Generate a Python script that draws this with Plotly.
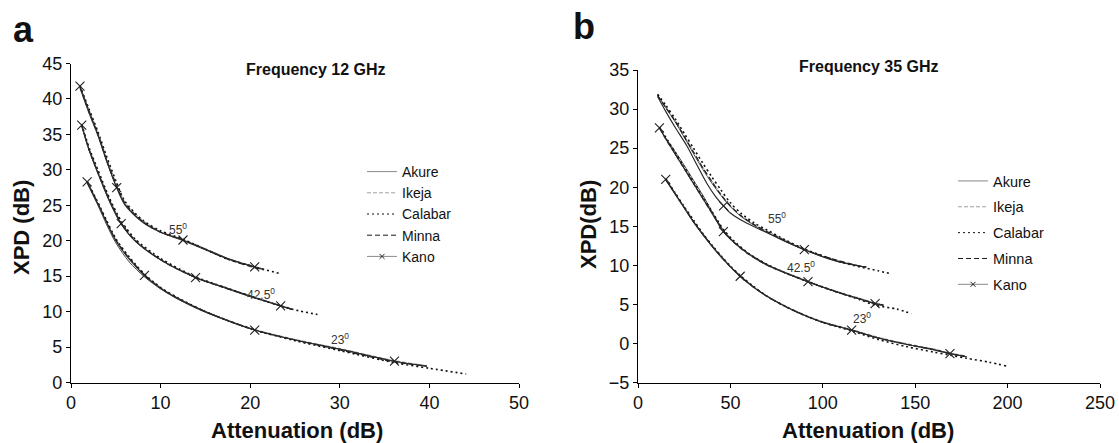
import plotly.graph_objects as go

# ---------------- Panel a : Frequency 12 GHz ----------------
A55_X = [1.0, 2.0, 3.0, 4.0, 5.0, 6.0, 8.0, 10.0, 12.5, 15.0, 17.5, 20.5, 21.5]
A55_AKURE = [41.5, 38.0, 34.8, 31.1, 27.8, 25.2, 22.7, 21.2, 20.0, 18.7, 17.4, 16.3, 16.0]
A55_IKEJA = [41.6, 38.5, 35.3, 31.6, 28.3, 25.5, 22.9, 21.3, 20.2, 18.9, 17.5, 16.4, 16.0]
A55_MINNA = [41.7, 38.2, 35.0, 31.3, 28.0, 25.3, 22.7, 21.2, 20.1, 18.8, 17.4, 16.2, 15.9]
A55_KANO = [41.8, 38.3, 35.0, 31.2, 27.8, 25.1, 22.6, 21.2, 20.1, 18.8, 17.5, 16.3, 15.9]
A55_CAL_X = [1.0, 2.0, 3.0, 4.0, 5.0, 6.0, 8.0, 10.0, 12.5, 15.0, 17.5, 20.5, 23.5]
A55_CALABAR = [41.9, 38.6, 35.4, 31.8, 28.5, 25.6, 22.9, 21.4, 20.2, 18.8, 17.4, 16.3, 15.3]
A55_KANO_MX = [1.0, 5.1, 12.5, 20.5]
A55_KANO_MY = [41.8, 27.5, 20.1, 16.3]

A42_X = [1.2, 2.0, 3.0, 4.3, 5.6, 7.2, 10.0, 13.9, 17.0, 20.0, 23.4, 24.7]
A42_AKURE = [36.1, 32.8, 29.5, 25.5, 22.3, 19.9, 17.3, 14.8, 13.4, 12.1, 10.8, 10.3]
A42_IKEJA = [36.2, 33.1, 29.9, 25.9, 22.6, 20.1, 17.4, 14.9, 13.5, 12.2, 10.9, 10.4]
A42_MINNA = [36.3, 32.9, 29.6, 25.7, 22.5, 20.0, 17.3, 14.8, 13.4, 12.2, 10.8, 10.3]
A42_KANO = [36.3, 32.9, 29.6, 25.6, 22.4, 19.9, 17.3, 14.8, 13.5, 12.2, 10.8, 10.3]
A42_CAL_X = [1.2, 2.0, 3.0, 4.3, 5.6, 7.2, 10.0, 13.9, 17.0, 20.0, 23.4, 25.5, 27.5]
A42_CALABAR = [36.4, 33.2, 30.0, 26.0, 22.8, 20.2, 17.5, 14.9, 13.5, 12.2, 10.8, 10.1, 9.6]
A42_KANO_MX = [1.2, 5.6, 13.9, 23.4]
A42_KANO_MY = [36.3, 22.4, 14.8, 10.8]

A23_X = [1.8, 3.0, 4.0, 5.0, 6.5, 8.2, 10.0, 12.0, 15.0, 20.5, 25.0, 30.0, 36.1, 39.7]
A23_AKURE = [28.1, 25.0, 22.2, 19.7, 17.0, 14.9, 13.2, 11.7, 9.9, 7.4, 6.0, 4.7, 3.0, 2.3]
A23_IKEJA = [28.2, 25.1, 22.6, 20.2, 17.6, 15.3, 13.4, 11.9, 10.0, 7.5, 6.1, 4.8, 3.1, 2.4]
A23_MINNA = [28.3, 25.3, 22.6, 20.1, 17.5, 15.2, 13.3, 11.8, 10.0, 7.4, 6.0, 4.6, 2.9, 2.3]
A23_KANO = [28.3, 25.2, 22.5, 20.0, 17.4, 15.1, 13.3, 11.8, 10.0, 7.4, 6.0, 4.7, 3.0, 2.3]
A23_CAL_X = [1.8, 3.0, 4.0, 5.0, 6.5, 8.2, 10.0, 12.0, 15.0, 20.5, 25.0, 30.0, 36.1, 40.0, 44.1]
A23_CALABAR = [28.4, 25.4, 22.8, 20.3, 17.7, 15.3, 13.4, 11.9, 10.0, 7.4, 5.9, 4.5, 2.8, 2.0, 1.2]
A23_KANO_MX = [1.8, 8.2, 20.5, 36.1]
A23_KANO_MY = [28.3, 15.1, 7.4, 3.0]

# ---------------- Panel b : Frequency 35 GHz ----------------
B55_X = [10.6, 15, 20, 25, 30, 35, 40, 45, 50, 56, 63, 70, 80, 90, 100, 110, 120, 123.5]
B55_AKURE = [31.8, 30.2, 28.4, 26.4, 24.3, 22.3, 20.5, 18.9, 17.5, 16.2, 15.1, 14.2, 13.0, 12.0, 11.1, 10.4, 9.9, 9.8]
B55_IKEJA = [31.8, 30.3, 28.6, 26.6, 24.6, 22.6, 20.8, 19.1, 17.6, 16.3, 15.2, 14.4, 13.2, 12.1, 11.2, 10.5, 9.9, 9.8]
B55_MINNA = [31.7, 30.2, 28.5, 26.5, 24.5, 22.5, 20.7, 19.0, 17.6, 16.3, 15.2, 14.3, 13.1, 12.0, 11.2, 10.5, 9.9, 9.8]
B55_CAL_X = [10.6, 15, 20, 25, 30, 35, 40, 45, 50, 56, 63, 70, 80, 90, 100, 110, 120, 130, 137]
B55_CALABAR = [31.9, 30.5, 28.8, 26.9, 25.0, 23.1, 21.3, 19.6, 18.0, 16.6, 15.4, 14.5, 13.2, 12.1, 11.2, 10.4, 9.8, 9.3, 8.9]
B55_KANO_X = [10.6, 15, 20, 26.4, 32, 37.2, 42, 46.3, 50, 58, 66, 75, 90, 105, 120, 123.5]
B55_KANO = [31.6, 29.7, 27.7, 25.3, 22.8, 20.5, 18.8, 17.6, 16.7, 15.5, 14.6, 13.6, 12.0, 10.7, 9.9, 9.8]
B55_KANO_MX = [46.3, 90.0]
B55_KANO_MY = [17.6, 12.0]
B55_AKURE_MX = [10.6, 90.0, 120.0]
B55_AKURE_MY = [31.8, 12.0, 9.9]

B42_X = [11.6, 15, 20, 25, 30, 35, 40, 46.2, 52, 60, 70, 80, 92, 100, 110, 120, 128.3, 132.8]
B42_AKURE = [27.5, 26.3, 24.6, 22.8, 20.9, 19.0, 16.9, 14.5, 13.0, 11.5, 10.1, 9.0, 7.9, 7.2, 6.4, 5.7, 5.1, 4.9]
B42_IKEJA = [27.7, 26.1, 24.2, 22.3, 20.4, 18.5, 16.6, 14.4, 13.0, 11.5, 10.1, 9.1, 8.0, 7.3, 6.5, 5.8, 5.2, 5.0]
B42_MINNA = [27.6, 26.2, 24.3, 22.4, 20.5, 18.6, 16.7, 14.4, 12.9, 11.4, 10.0, 9.0, 7.9, 7.2, 6.4, 5.7, 5.1, 4.9]
B42_KANO = [27.6, 26.2, 24.3, 22.4, 20.5, 18.6, 16.7, 14.3, 12.9, 11.4, 10.0, 9.0, 7.9, 7.2, 6.4, 5.7, 5.1, 4.9]
B42_CAL_X = [11.6, 15, 20, 25, 30, 35, 40, 46.2, 52, 60, 70, 80, 92, 100, 110, 120, 128.3, 140, 148]
B42_CALABAR = [27.7, 26.4, 24.5, 22.6, 20.7, 18.8, 16.9, 14.6, 13.1, 11.5, 10.1, 9.0, 7.9, 7.2, 6.4, 5.6, 4.9, 4.4, 3.8]
B42_KANO_MX = [11.6, 46.2, 92.0, 128.3]
B42_KANO_MY = [27.6, 14.3, 7.9, 5.1]

B23_X = [15, 20, 25, 30, 35, 40, 45, 50, 55.3, 62, 70, 80, 90, 100, 115.6, 130, 145, 160, 168.8, 177.8]
B23_AKURE = [20.9, 19.1, 17.3, 15.5, 13.9, 12.4, 11.0, 9.8, 8.6, 7.3, 6.0, 4.7, 3.6, 2.7, 1.7, 0.7, -0.1, -0.8, -1.3, -1.7]
B23_IKEJA = [21.1, 19.3, 17.5, 15.7, 14.1, 12.6, 11.2, 9.9, 8.7, 7.4, 6.1, 4.8, 3.7, 2.8, 1.8, 0.8, 0.0, -0.7, -1.2, -1.6]
B23_MINNA = [21.0, 19.2, 17.4, 15.6, 14.0, 12.5, 11.1, 9.8, 8.6, 7.3, 6.0, 4.7, 3.6, 2.7, 1.7, 0.7, -0.1, -0.8, -1.3, -1.7]
B23_KANO = [21.0, 19.2, 17.4, 15.6, 14.0, 12.5, 11.1, 9.8, 8.6, 7.3, 6.0, 4.7, 3.6, 2.7, 1.7, 0.7, -0.1, -0.8, -1.3, -1.7]
B23_CAL_X = [15, 20, 25, 30, 35, 40, 45, 50, 55.3, 62, 70, 80, 90, 100, 115.6, 130, 145, 160, 168.8, 177.8, 190, 199.3]
B23_CALABAR = [21.1, 19.3, 17.5, 15.8, 14.1, 12.6, 11.2, 9.9, 8.7, 7.4, 6.0, 4.7, 3.6, 2.7, 1.6, 0.5, -0.4, -1.1, -1.5, -1.9, -2.4, -2.9]
B23_KANO_MX = [15.0, 55.3, 115.6, 168.8]
B23_KANO_MY = [21.0, 8.6, 1.7, -1.3]

LOCATIONS = ["Akure", "Ikeja", "Calabar", "Minna", "Kano"]

# angle labels (text, x, y) per panel
A_LABELS = [("55<sup>0</sup>", 11.9, 21.6), ("42.5<sup>0</sup>", 21.2, 12.5), ("23<sup>0</sup>", 30.0, 6.1)]
B_LABELS = [("55<sup>0</sup>", 75.0, 16.0), ("42.5<sup>0</sup>", 88.0, 9.8), ("23<sup>0</sup>", 121.0, 3.3)]

# ---------------- styles ----------------
STYLE = {
    "Akure": dict(color="#4a4a4a", width=1.0, dash="solid"),
    "Ikeja": dict(color="#a0a0a0", width=1.0, dash="4px,2px"),
    "Calabar": dict(color="#111111", width=1.6, dash="2px,3px"),
    "Minna": dict(color="#1a1a1a", width=1.2, dash="5px,3px"),
    "Kano": dict(color="#2a2a2a", width=1.2, dash="solid"),
}
FONT = "Liberation Sans, Arial, sans-serif"

fig = go.Figure()


def add_curve(x, y, loc, xa, ya):
    fig.add_trace(go.Scatter(x=x, y=y, mode="lines", xaxis=xa, yaxis=ya,
                             line=dict(shape="spline", smoothing=0.8, **STYLE[loc]),
                             showlegend=False, hoverinfo="skip"))


def add_marks(x, y, xa, ya, symbol, size):
    fig.add_trace(go.Scatter(x=x, y=y, mode="markers", xaxis=xa, yaxis=ya,
                             marker=dict(symbol=symbol, size=size, color="rgba(0,0,0,0)",
                                         line=dict(color="#222222", width=1.1)),
                             showlegend=False, hoverinfo="skip"))


panel_a = [
    (A55_X, A55_IKEJA, "Ikeja"), (A55_X, A55_AKURE, "Akure"), (A55_X, A55_MINNA, "Minna"),
    (A55_CAL_X, A55_CALABAR, "Calabar"), (A55_X, A55_KANO, "Kano"),
    (A42_X, A42_IKEJA, "Ikeja"), (A42_X, A42_AKURE, "Akure"), (A42_X, A42_MINNA, "Minna"),
    (A42_CAL_X, A42_CALABAR, "Calabar"), (A42_X, A42_KANO, "Kano"),
    (A23_X, A23_IKEJA, "Ikeja"), (A23_X, A23_AKURE, "Akure"), (A23_X, A23_MINNA, "Minna"),
    (A23_CAL_X, A23_CALABAR, "Calabar"), (A23_X, A23_KANO, "Kano"),
]
for x, y, loc in panel_a:
    add_curve(x, y, loc, "x", "y")
for mx, my in [(A55_KANO_MX, A55_KANO_MY), (A42_KANO_MX, A42_KANO_MY), (A23_KANO_MX, A23_KANO_MY)]:
    add_marks(mx, my, "x", "y", "x-thin", 9)

panel_b = [
    (B55_X, B55_IKEJA, "Ikeja"), (B55_X, B55_AKURE, "Akure"), (B55_X, B55_MINNA, "Minna"),
    (B55_CAL_X, B55_CALABAR, "Calabar"), (B55_KANO_X, B55_KANO, "Kano"),
    (B42_X, B42_IKEJA, "Ikeja"), (B42_X, B42_AKURE, "Akure"), (B42_X, B42_MINNA, "Minna"),
    (B42_CAL_X, B42_CALABAR, "Calabar"), (B42_X, B42_KANO, "Kano"),
    (B23_X, B23_IKEJA, "Ikeja"), (B23_X, B23_AKURE, "Akure"), (B23_X, B23_MINNA, "Minna"),
    (B23_CAL_X, B23_CALABAR, "Calabar"), (B23_X, B23_KANO, "Kano"),
]
for x, y, loc in panel_b:
    add_curve(x, y, loc, "x2", "y2")
for mx, my in [(B55_KANO_MX, B55_KANO_MY), (B42_KANO_MX, B42_KANO_MY), (B23_KANO_MX, B23_KANO_MY)]:
    add_marks(mx, my, "x2", "y2", "x-thin", 9)
add_marks(B55_AKURE_MX, B55_AKURE_MY, "x2", "y2", "circle-open", 7)

# legend entries (one per location, per panel legend)
for leg, xa, ya, grp in [("legend", "x", "y", "a"), ("legend2", "x2", "y2", "b")]:
    for loc in LOCATIONS:
        st = STYLE[loc]
        mode = "lines+markers" if loc == "Kano" else "lines"
        fig.add_trace(go.Scatter(
            x=[None], y=[None], mode=mode, name=loc, xaxis=xa, yaxis=ya, legend=leg,
            legendgroup=grp + loc,
            line=dict(color="#8a8a8a" if loc in ("Akure", "Kano") else st["color"],
                      width=1.0, dash=st["dash"]),
            marker=dict(symbol="x-thin", size=5, line=dict(color="#222", width=1)),
        ))

axis_common = dict(showgrid=False, zeroline=False, showline=True, linecolor="black",
                   linewidth=1.3, ticks="outside", ticklen=4, tickcolor="black", tickwidth=1.2,
                   tickfont=dict(family=FONT, size=18, color="#111"), automargin=False)

W, H = 1119, 443
fig.update_layout(
    width=W, height=H, margin=dict(l=0, r=0, t=0, b=0),
    paper_bgcolor="white", plot_bgcolor="white",
    xaxis=dict(domain=[71 / W, 519 / W], range=[0, 50], dtick=10, anchor="y", **axis_common),
    yaxis=dict(domain=[(H - 382.5) / H, (H - 63.5) / H], range=[0, 45], dtick=5, anchor="x", **axis_common),
    xaxis2=dict(domain=[638 / W, 1100 / W], range=[0, 250], dtick=50, anchor="y2", **axis_common),
    yaxis2=dict(domain=[(H - 382.5) / H, (H - 70) / H], range=[-5, 35], dtick=5, anchor="x2", **axis_common),
    legend=dict(x=362 / W, y=1 - 156 / H, xanchor="left", yanchor="top", traceorder="normal",
                font=dict(family=FONT, size=14, color="#111"), bgcolor="rgba(0,0,0,0)",
                itemwidth=30, tracegroupgap=0),
    legend2=dict(x=953 / W, y=1 - 165 / H, xanchor="left", yanchor="top", traceorder="grouped",
                 font=dict(family=FONT, size=14.5, color="#111"), bgcolor="rgba(0,0,0,0)",
                 itemwidth=30, tracegroupgap=4),
    showlegend=True,
)

ann = []
for txt, x, y in A_LABELS:
    ann.append(dict(text=txt, x=x, y=y, xref="x", yref="y", showarrow=False,
                    xanchor="center", yanchor="middle",
                    font=dict(family=FONT, size=12, color="#333")))
for txt, x, y in B_LABELS:
    ann.append(dict(text=txt, x=x, y=y, xref="x2", yref="y2", showarrow=False,
                    xanchor="center", yanchor="middle",
                    font=dict(family=FONT, size=12, color="#333")))


def paper_text(txt, px, py, size, angle=0):
    return dict(text=txt, x=px / W, y=1 - py / H, xref="paper", yref="paper",
                xanchor="center", yanchor="middle", textangle=angle, showarrow=False,
                font=dict(family=FONT, size=size, color="#111"))


ann += [
    paper_text("<b>Frequency 12 GHz</b>", 316, 70, 16),
    paper_text("<b>Frequency 35 GHz</b>", 869, 67, 16),
    paper_text("<b>a</b>", 23, 29, 36),
    paper_text("<b>b</b>", 584, 26, 36),
    paper_text("<b>Attenuation (dB)</b>", 297, 430, 22),
    paper_text("<b>Attenuation (dB)</b>", 868, 430, 22),
    paper_text("<b>XPD (dB)</b>", 21, 228, 22, -90),
    paper_text("<b>XPD(dB)</b>", 588, 225, 22, -90),
]
fig.update_layout(annotations=ann)

fig.write_html("out.html")
